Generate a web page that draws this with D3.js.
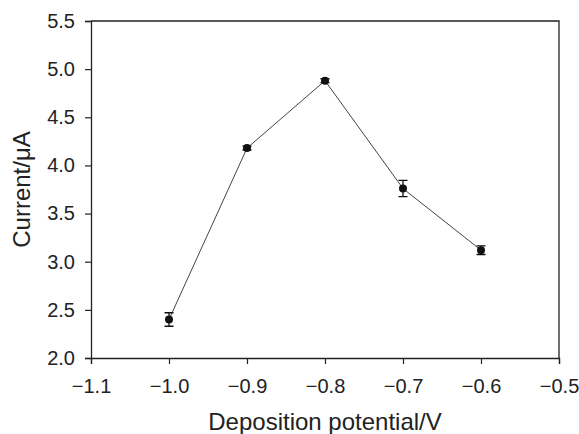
<!DOCTYPE html>
<html>
<head>
<meta charset="utf-8">
<script src="https://cdn.jsdelivr.net/npm/d3@7"></script>
<style>
  body { margin: 0; background: #fff; }
  svg { display: block; font-family: "Liberation Sans", Arial, sans-serif; }
</style>
</head>
<body>
<svg width="579" height="434"></svg>
<script>
// data
const potential = [-1.0, -0.9, -0.8, -0.7, -0.6];
const current = [2.40, 4.18, 4.88, 3.76, 3.12];
const errors = [0.07, 0.02, 0.02, 0.085, 0.045];
const xTicks = [-1.1, -1.0, -0.9, -0.8, -0.7, -0.6, -0.5];
const yTicks = [2.0, 2.5, 3.0, 3.5, 4.0, 4.5, 5.0, 5.5];

const points = potential.map((p, i) => ({ x: p, y: current[i], e: errors[i] }));

const margin = { left: 91, right: 20, top: 21, bottom: 76 };
const W = 579, H = 434;

const svg = d3.select('svg');

const xScale = d3.scaleLinear().domain([-1.1, -0.5]).range([margin.left, W - margin.right]);
const yScale = d3.scaleLinear().domain([2.0, 5.5]).range([H - margin.bottom, margin.top]);

const fmt = d => d < 0 ? '\u2212' + d3.format('.1f')(-d) : d3.format('.1f')(d);

// frame (top + right)
svg.append('path')
.attr('d', `M${xScale(-1.1)},${yScale(5.5)}H${xScale(-0.5)}V${yScale(2.0)}`)
.attr('fill', 'none')
.attr('stroke', '#222')
.attr('stroke-width', 1.3)
;

// X axis
const xAxis = svg.append('g')
.attr('transform', `translate(0, ${yScale(2.0)})`)
.call(d3.axisBottom(xScale).tickValues(xTicks).tickFormat(fmt).tickSize(6).tickPadding(15))
;

// Y axis
const yAxis = svg.append('g')
.attr('transform', `translate(${xScale(-1.1)}, 0)`)
.call(d3.axisLeft(yScale).tickValues(yTicks).tickFormat(fmt).tickSize(6).tickPadding(10))
;

[xAxis, yAxis].forEach(ax => {
  ax.select('.domain').attr('stroke', '#222').attr('stroke-width', 1.3);
  ax.selectAll('.tick line').attr('stroke', '#222').attr('stroke-width', 1.2);
  ax.selectAll('.tick text')
  .attr('fill', '#222')
  .style('font-size', '20px')
  .style('font-family', '"Liberation Sans", Arial, sans-serif');
});

// axis titles
svg.append('text')
.attr('x', (xScale(-1.1) + xScale(-0.5)) / 2)
.attr('y', 430)
.attr('text-anchor', 'middle')
.attr('fill', '#222')
.style('font-size', '24px')
.text('Deposition potential/V')
;

svg.append('text')
.attr('transform', `translate(30, ${(yScale(2.0) + yScale(5.5)) / 2}) rotate(-90)`)
.attr('text-anchor', 'middle')
.attr('fill', '#222')
.style('font-size', '24px')
.text('Current/\u03bcA')
;

// line
const line = d3.line().x(d => xScale(d.x)).y(d => yScale(d.y));
svg.append('path')
.datum(points)
.attr('d', line)
.attr('fill', 'none')
.attr('stroke', '#444')
.attr('stroke-width', 1)
;

// error bars
const eb = svg.append('g').attr('stroke', '#111').attr('stroke-width', 1.3);
eb.selectAll('.err')
.data(points)
.enter()
.append('path')
.classed('err', true)
.attr('d', d => {
  const x = xScale(d.x), y1 = yScale(d.y - d.e), y2 = yScale(d.y + d.e);
  return `M${x},${y1}V${y2}M${x - 4.5},${y1}H${x + 4.5}M${x - 4.5},${y2}H${x + 4.5}`;
})
.attr('fill', 'none')
;

// markers
svg.selectAll('.dot')
.data(points)
.enter()
.append('circle')
.classed('dot', true)
.attr('cx', d => xScale(d.x))
.attr('cy', d => yScale(d.y))
.attr('r', 4)
.attr('fill', '#111')
;
</script>
</body>
</html>
